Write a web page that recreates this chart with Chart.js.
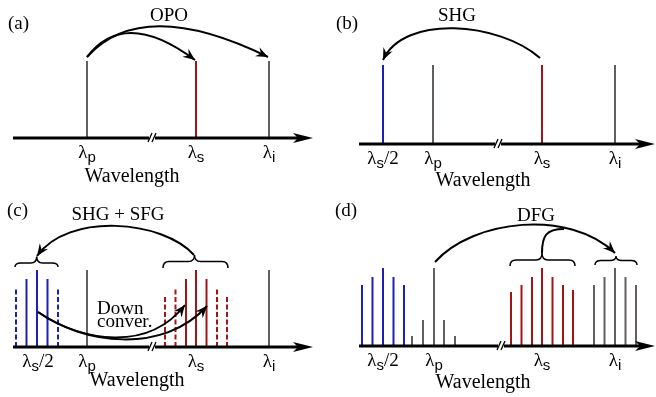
<!DOCTYPE html>
<html>
<head>
<meta charset="utf-8">
<script src="https://cdn.jsdelivr.net/npm/chart.js@4.4.0/dist/chart.umd.min.js"></script>
<style>
  html, body { margin: 0; padding: 0; background: #fff; overflow: hidden; }
  #wrap { position: relative; width: 656px; height: 397px; }
  canvas { position: absolute; }
</style>
</head>
<body>
<div id="wrap">
  <canvas id="pa" width="328" height="200" style="left:0;top:0"></canvas>
  <canvas id="pb" width="328" height="200" style="left:328px;top:0"></canvas>
  <canvas id="pc" width="328" height="197" style="left:0;top:200px"></canvas>
  <canvas id="pd" width="328" height="197" style="left:328px;top:200px"></canvas>
</div>
<script>
const GRAY = "#655e5e";
const RED = "#a31414";
const BLUE = "#1f1fb8";
const INK = "#000";

// (a) OPO
const A_GRAY_X = [74, 256];
const A_GRAY_H = [77, 77];
const A_RED_X = [183];
const A_RED_H = [77];
const A_TICKS = ["p", "s", "i"];
const A_TICK_X = [74, 183, 256];

// (b) SHG
const B_BLUE_X = [24];
const B_BLUE_H = [79];
const B_GRAY_X = [74, 256];
const B_GRAY_H = [79, 79];
const B_RED_X = [183];
const B_RED_H = [79];
const B_TICKS = ["s/2", "p", "s", "i"];
const B_TICK_X = [24, 74, 183, 256];

// (c) SHG + SFG, down conversion
const C_BLUE_X = [13.5, 24, 34.5];
const C_BLUE_H = [68, 77, 68];
const C_BLUE_SIDE_X = [3, 45];
const C_BLUE_SIDE_H = [59, 59];
const C_GRAY_X = [74, 256];
const C_GRAY_H = [77, 77];
const C_RED_X = [173, 183, 193.5];
const C_RED_H = [68, 77, 68];
const C_RED_SIDE_X = [152, 162.5, 204, 214];
const C_RED_SIDE_H = [52, 60, 60, 52];
const C_TICK_X = [25, 74, 183, 256];

// (d) DFG
const D_BLUE_X = [3, 13.5, 24, 34.5, 45];
const D_BLUE_H = [61, 69, 78, 69, 61];
const D_PUMP_X = [53, 64, 75, 85, 96];
const D_PUMP_H = [10, 26, 78, 26, 10];
const D_RED_X = [152, 162.5, 173, 183, 193.5, 204, 214];
const D_RED_H = [54, 61, 69, 78, 69, 61, 56];
const D_IDLER_X = [235, 245.5, 256, 266.5, 277];
const D_IDLER_H = [61, 69, 78, 69, 61];
const D_TICK_X = [24, 75, 183, 256];

const SERIF = "'Liberation Serif', 'Times New Roman', serif";
const SANS = "'Liberation Sans', Arial, sans-serif";

// each spectral line is a vertical segment from 0 to its height
function sticks(xs, hs) {
  const pts = [];
  xs.forEach((x, k) => {
    pts.push({ x: x, y: 0 }, { x: x, y: hs[k] }, { x: x, y: null });
  });
  return pts;
}

function head(ctx, tx, ty, fx, fy) {
  const a = Math.atan2(ty - fy, tx - fx);
  const len = 12, half = 5;
  const c = Math.cos(a), s = Math.sin(a);
  ctx.beginPath();
  ctx.moveTo(tx, ty);
  ctx.lineTo(tx - len * c - half * s, ty - len * s + half * c);
  ctx.lineTo(tx - 0.65 * len * c, ty - 0.65 * len * s);
  ctx.lineTo(tx - len * c + half * s, ty - len * s - half * c);
  ctx.closePath();
  ctx.fill();
}

function lambda(ctx, cx, base, tick) {
  const big = "19px " + SERIF, small = "15px " + SANS;
  const sub = tick[0], tail = tick.slice(1);
  ctx.font = big;
  const w1 = ctx.measureText("λ").width;
  const w3 = tail ? ctx.measureText(tail).width : 0;
  ctx.font = small;
  const w2 = ctx.measureText(sub).width;
  let x = cx - (w1 + w2 + w3) / 2;
  ctx.textAlign = "left";
  ctx.font = big;
  ctx.fillText("λ", x, base);
  x += w1;
  ctx.font = small;
  ctx.fillText(sub, x, base + 4);
  x += w2;
  if (tail) {
    ctx.font = big;
    ctx.fillText(tail, x, base);
  }
}

const schematic = {
  id: "schematic",
  afterDraw(chart, args, o) {
    const ctx = chart.ctx;
    const X = v => chart.scales.x.getPixelForValue(v);
    const Y = v => chart.scales.y.getPixelForValue(v);
    const P = p => [X(p[0]), Y(p[1])];
    const y0 = Y(0);
    ctx.save();
    ctx.strokeStyle = INK;
    ctx.fillStyle = INK;

    // wavelength axis with arrow
    const xa = X(0), xt = X(o.axisEnd);
    ctx.lineWidth = 3;
    ctx.beginPath();
    ctx.moveTo(xa, y0);
    ctx.lineTo(xt - 14, y0);
    ctx.stroke();
    ctx.beginPath();
    ctx.moveTo(xt, y0);
    ctx.lineTo(xt - 20, y0 - 5);
    ctx.lineTo(xt - 15, y0);
    ctx.lineTo(xt - 20, y0 + 5);
    ctx.closePath();
    ctx.fill();

    // axis break
    const xb = X(o.brk);
    ctx.fillStyle = "#fff";
    ctx.fillRect(xb - 3, y0 - 2, 6, 4);
    ctx.fillStyle = INK;
    ctx.lineWidth = 1.3;
    [-2, 2].forEach(d => {
      ctx.beginPath();
      ctx.moveTo(xb + d - 2, y0 + 4);
      ctx.lineTo(xb + d + 2, y0 - 5);
      ctx.stroke();
    });

    // braces
    ctx.lineWidth = 1.5;
    (o.braces || []).forEach(b => {
      const xl = X(b[0]), xr = X(b[1]), xc = X(b[2]);
      const ye = Y(b[3]), ym = Y(b[4]), yt = Y(b[5]);
      const r = 6;
      ctx.beginPath();
      ctx.moveTo(xl, ye);
      ctx.quadraticCurveTo(xl, ym, xl + r, ym);
      ctx.lineTo(xc - r, ym);
      ctx.quadraticCurveTo(xc, ym, xc, yt);
      ctx.quadraticCurveTo(xc, ym, xc + r, ym);
      ctx.lineTo(xr - r, ym);
      ctx.quadraticCurveTo(xr, ym, xr, ye);
      ctx.stroke();
    });

    // curved arrows (cubic)
    ctx.lineWidth = 2;
    (o.arrows || []).forEach(c => {
      const p0 = P(c[0]), c1 = P(c[1]), c2 = P(c[2]), p3 = P(c[3]);
      ctx.beginPath();
      ctx.moveTo(p0[0], p0[1]);
      ctx.bezierCurveTo(c1[0], c1[1], c2[0], c2[1], p3[0], p3[1]);
      ctx.stroke();
      head(ctx, p3[0], p3[1], c2[0], c2[1]);
    });
    (o.branches || []).forEach(c => {
      const p0 = P(c[0]), c1 = P(c[1]), c2 = P(c[2]), p3 = P(c[3]);
      ctx.beginPath();
      ctx.moveTo(p0[0], p0[1]);
      ctx.bezierCurveTo(c1[0], c1[1], c2[0], c2[1], p3[0], p3[1]);
      ctx.stroke();
    });

    // texts
    ctx.textBaseline = "alphabetic";
    o.ticks.forEach((t, k) => lambda(ctx, X(o.tickX[k]), y0 + 20, t));
    ctx.font = "20px " + SERIF;
    ctx.textAlign = "center";
    ctx.fillText("Wavelength", o.wave[0], o.wave[1]);
    ctx.font = "19px " + SERIF;
    ctx.fillText(o.title[0], o.title[1], o.title[2]);
    ctx.textAlign = "left";
    ctx.fillText(o.letter[0], o.letter[1], o.letter[2]);
    (o.notes || []).forEach(n => ctx.fillText(n[0], n[1], n[2]));
    ctx.restore();
  }
};

function series(xs, hs, color, dash) {
  return {
    data: sticks(xs, hs),
    borderColor: color,
    borderWidth: 2,
    borderDash: dash || [],
    borderCapStyle: "butt",
    pointRadius: 0,
    spanGaps: false,
    tension: 0
  };
}

function panel(id, pad, xMax, datasets, deco) {
  new Chart(document.getElementById(id), {
    type: "line",
    data: { datasets: datasets },
    options: {
      responsive: false,
      animation: false,
      devicePixelRatio: 1,
      layout: { padding: pad },
      scales: {
        x: { type: "linear", min: 0, max: xMax, display: false },
        y: { type: "linear", min: 0, max: 100, display: false }
      },
      plugins: {
        legend: { display: false },
        tooltip: { enabled: false },
        schematic: deco
      }
    },
    plugins: [schematic]
  });
}

const DASH = [5, 2.5];

panel("pa", { left: 13, right: 15, top: 38, bottom: 62 }, 300, [
  series(A_GRAY_X, A_GRAY_H, GRAY),
  series(A_RED_X, A_RED_H, RED)
], {
  axisEnd: 300, brk: 139,
  ticks: A_TICKS, tickX: A_TICK_X,
  wave: [132, 182], title: ["OPO", 169, 21], letter: ["(a)", 8, 29],
  arrows: [
    [[74, 81], [99, 114], [135, 113], [182, 78]],
    [[74, 81], [111, 122], [171, 122], [255, 81]]
  ]
});

panel("pb", { left: 31, right: 0, top: 44, bottom: 56 }, 297, [
  series(B_BLUE_X, B_BLUE_H, BLUE),
  series(B_GRAY_X, B_GRAY_H, GRAY),
  series(B_RED_X, B_RED_H, RED)
], {
  axisEnd: 296, brk: 139,
  ticks: B_TICKS, tickX: B_TICK_X,
  wave: [155, 186], title: ["SHG", 129, 21], letter: ["(b)", 8, 29],
  arrows: [
    [[181, 86], [140, 122], [45, 130], [24, 84]]
  ]
});

panel("pc", { left: 13, right: 15, top: 47, bottom: 50 }, 300, [
  series(C_BLUE_X, C_BLUE_H, BLUE),
  series(C_BLUE_SIDE_X, C_BLUE_SIDE_H, BLUE, DASH),
  series(C_GRAY_X, C_GRAY_H, GRAY),
  series(C_RED_X, C_RED_H, RED),
  series(C_RED_SIDE_X, C_RED_SIDE_H, RED, DASH)
], {
  axisEnd: 300, brk: 139,
  ticks: B_TICKS, tickX: C_TICK_X,
  wave: [137, 186], title: ["SHG + SFG", 118, 20], letter: ["(c)", 7, 16],
  notes: [["Down", 97, 114], ["conver.", 97, 127]],
  braces: [[2, 45, 23.7, 80, 84, 90.5], [150, 215, 181.5, 79, 85.5, 92]],
  arrows: [
    [[181, 92], [150, 127], [55, 135], [24, 91]],
    [[25, 35], [70, 5], [135, -5], [172, 42]],
    [[25, 35], [70, 3], [150, -8], [194, 41]]
  ]
});

panel("pd", { left: 31, right: 0, top: 46, bottom: 51 }, 297, [
  series(D_BLUE_X, D_BLUE_H, BLUE),
  series(D_PUMP_X, D_PUMP_H, GRAY),
  series(D_RED_X, D_RED_H, RED),
  series(D_IDLER_X, D_IDLER_H, GRAY)
], {
  axisEnd: 296, brk: 142,
  ticks: B_TICKS, tickX: D_TICK_X,
  wave: [155, 188], title: ["DFG", 208, 21], letter: ["(d)", 7, 16],
  braces: [[151, 216, 183, 80, 86, 93], [236, 278, 257, 81, 85.5, 90]],
  arrows: [
    [[76, 84], [115, 127], [210, 137], [256, 93]]
  ],
  branches: [
    [[183, 93], [183, 110], [187, 117], [205, 117]]
  ]
});
</script>
</body>
</html>
